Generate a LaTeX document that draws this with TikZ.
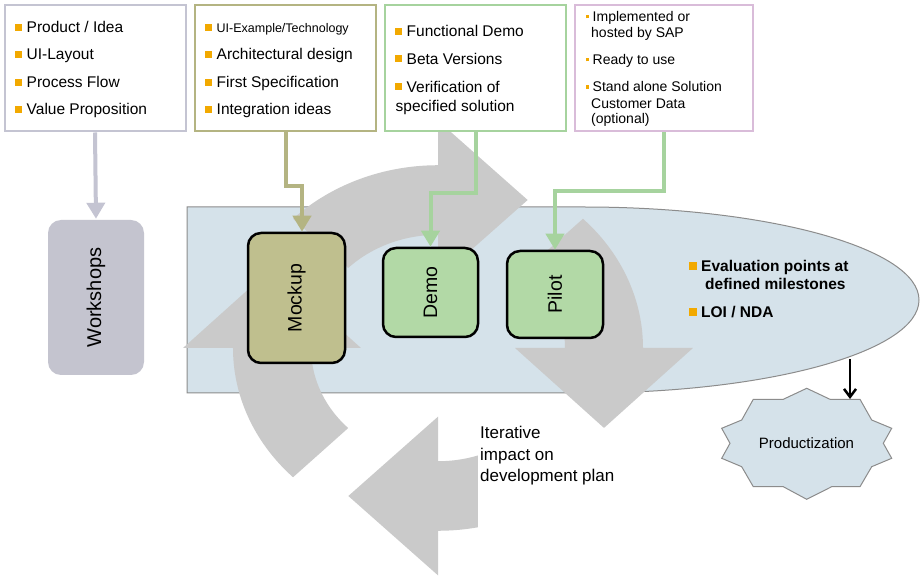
\documentclass[tikz,border=0pt]{standalone}
\usepackage{fontspec}
\setmainfont{Liberation Sans}
\usetikzlibrary{arrows.meta}
\definecolor{arrowgrey}{HTML}{CACACA}
\definecolor{bluefill}{HTML}{D5E2EA}
\definecolor{outl}{HTML}{8C8C8C}
\definecolor{bul}{HTML}{F2A900}
\definecolor{cA}{HTML}{C4C4D2}
\definecolor{cB}{HTML}{B4B482}
\definecolor{cC}{HTML}{A6D39E}
\definecolor{cD}{HTML}{D9BCD9}
\definecolor{mockfill}{HTML}{BFBF8E}
\definecolor{greenfill}{HTML}{B2D9A6}
\definecolor{workfill}{HTML}{C4C4CF}
\newcommand\bl{\textcolor{bul}{\rule[1.8pt]{7pt}{7pt}}\hspace{4.5pt}}
\newcommand\sbl{\textcolor{bul}{\rule[3pt]{3.5pt}{3.5pt}}\hspace{3.5pt}}
\newcommand\ebl{\textcolor{bul}{\rule[2pt]{8pt}{8pt}}\hspace{4pt}}
\newcommand\cyclearrow[2]{%
  \fill[arrowgrey] plot[domain=#1:#2,samples=40] ({1.235*cos(\x)},{1.235*sin(\x)})
   -- ({1.536*cos(#2)},{1.536*sin(#2)})
   -- ({cos(#2)+0.54*sin(#2)},{sin(#2)-0.54*cos(#2)})
   -- ({0.464*cos(#2)},{0.464*sin(#2)})
   -- plot[domain=#2:#1,samples=40] ({0.765*cos(\x)},{0.765*sin(\x)}) -- cycle;}
\begin{document}
\begin{tikzpicture}[x=1pt,y=-1pt,
  topbox/.style={draw, line width=2pt, fill=white, inner sep=0pt, minimum height=126pt},
  rbox/.style={draw=black, line width=2.5pt, rounded corners=13pt, inner sep=0pt},
  lbl/.style={anchor=base west, inner sep=0pt},
  vlbl/.style={rotate=90, inner sep=0pt, font=\fontsize{19.5}{22}\selectfont},
  conn/.style={line width=4pt, -{Triangle[width=18pt,length=16pt]}},
  font=\fontsize{15.5}{18}\selectfont]
\useasboundingbox (0,0) rectangle (922,577);
\fill[white] (0,0) rectangle (922,577);

% blue evaluation region
\draw[fill=bluefill, draw=outl, line width=1pt] (187,207) -- (584,207)
  arc[start angle=90, end angle=-90, x radius=335pt, y radius=93pt] -- (187,393) -- cycle;

% grey cycle arrows
\begin{scope}[shift={(438,348)}, xscale=166, yscale=-148]
\cyclearrow{225}{180}
\cyclearrow{135}{90}
\cyclearrow{45}{0}
\cyclearrow{-45}{-90}
\end{scope}

% text box of the iterative note
\fill[white] (478,428) rectangle (632,540);

% productization star
\draw[fill=bluefill, draw=outl, line width=1pt]
  (806.7,388.3) -- (830,399.3) -- (860,399.3) -- (871.7,420) -- (891.7,428.3) -- (883.3,443.3)
  -- (891.7,458.3) -- (871.7,466.7) -- (860,486.7) -- (831.7,486.7) -- (806.7,499.3)
  -- (783.3,486.7) -- (753.3,486.7) -- (741.7,466.7) -- (721.7,458.3) -- (730,443.3)
  -- (721.7,428.3) -- (741.7,420) -- (753.3,399.3) -- (783.3,399.3) -- cycle;
\node (prod) at (806.5,443.5) {\fontsize{15}{18}\selectfont Productization};
\coordinate (ellpt) at (850,359);
\coordinate (startop) at (850,399);
\draw[line width=2.5pt, -{Straight Barb[length=8pt,width=12pt]}] (ellpt) -- (startop);

% top boxes
\node[topbox, draw=cA, minimum width=181pt] (b1) at (95,68.5) {};
\node[topbox, draw=cB, minimum width=181pt] (b2) at (285.5,68.5) {};
\node[topbox, draw=cC, minimum width=181pt] (b3) at (475.5,68.5) {};
\node[topbox, draw=cD, minimum width=177.5pt] (b4) at (664,68.5) {};

% stage boxes
\node[rbox, draw=none, fill=workfill, minimum width=96pt, minimum height=155pt] (work) at (96,297.5) {};
\node[vlbl, font=\fontsize{20}{22}\selectfont] (worktxt) at (work.center) {Workshops};
\node[rbox, fill=mockfill, minimum width=97pt, minimum height=130pt] (mock) at (296.5,298) {};
\node[vlbl] (mocktxt) at (mock.center) {Mockup};
\node[rbox, fill=greenfill, minimum width=95pt, minimum height=89pt] (demo) at (430.5,292.5) {};
\node[vlbl] (demotxt) at (demo.center) {Demo};
\node[rbox, fill=greenfill, minimum width=96pt, minimum height=87pt] (pilot) at (555,294.5) {};
\node[vlbl] (pilottxt) at (pilot.center) {Pilot};

% connectors
\draw[conn, cA] (b1.south) -- (work.north);
\draw[conn, cB] (b2.south) -- ++(0,54) -| ([xshift=5.5pt]mock.north);
\draw[conn, cC] (b3.south) -- ++(0,61) -| (demo.north);
\draw[conn, cC] (b4.south) -- ++(0,59) -| (pilot.north);

% box 1
\node[lbl] (t11) at (15,32.5) {\bl Product / Idea};
\node[lbl] (t12) at (15,60) {\bl UI-Layout};
\node[lbl] (t13) at (15,87.5) {\bl Process Flow};
\node[lbl] (t14) at (15,115) {\bl Value Proposition};
% box 2
\node[lbl] (t21) at (205,32.5) {\bl{\fontsize{12.5}{14}\selectfont UI-Example/Technology}};
\node[lbl] (t22) at (205,60) {\bl Architectural design};
\node[lbl] (t23) at (205,87.5) {\bl First Specification};
\node[lbl] (t24) at (205,115) {\bl Integration ideas};
% box 3
\node[lbl] (t31) at (395,36.7) {\bl Functional Demo};
\node[lbl] (t32) at (395,64.3) {\bl Beta Versions};
\node[lbl] (t33) at (395,92.3) {\bl Verification of};
\node[lbl] (t34) at (395.5,111.7) {specified solution};
% box 4
\begin{scope}[font=\fontsize{14}{16}\selectfont]
\node[lbl] (t41) at (585.5,21.5) {\sbl Implemented or};
\node[lbl] (t42) at (591,37.7) {hosted by SAP};
\node[lbl] (t43) at (585.5,64.3) {\sbl Ready to use};
\node[lbl] (t44) at (585.5,91.7) {\sbl Stand alone Solution};
\node[lbl] (t45) at (591,108.3) {Customer Data};
\node[lbl] (t46) at (591,124) {(optional)};
\end{scope}

% evaluation
\begin{scope}[font=\fontsize{15.5}{18}\selectfont\bfseries]
\node[lbl] (e1) at (689,272) {\ebl Evaluation points at};
\node[lbl] (e2) at (705,290) {defined milestones};
\node[lbl] (e3) at (689,318) {\ebl LOI / NDA};
\end{scope}

% iterative note
\begin{scope}[font=\fontsize{17}{20}\selectfont]
\node[lbl] (i1) at (480,439) {Iterative};
\node[lbl] (i2) at (480,461) {impact on};
\node[lbl] (i3) at (480,482) {development plan};
\end{scope}
\end{tikzpicture}
\end{document}
